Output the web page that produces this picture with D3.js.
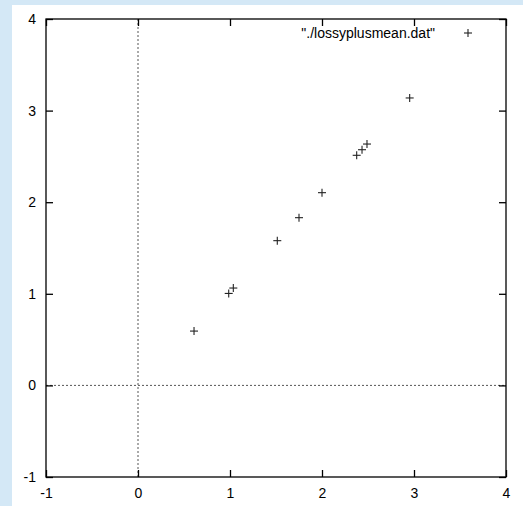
<!DOCTYPE html>
<html>
<head>
<meta charset="utf-8">
<script src="https://cdn.jsdelivr.net/npm/d3@7"></script>
<style>
  html, body { margin: 0; padding: 0; background: #d4e8f6; }
  svg { display: block; }
</style>
</head>
<body>
<svg id="chart" width="523" height="506"></svg>
<script>
// Scatter of lossy-plus-mean values
const xValues = [0.609, 0.986, 1.036, 1.514, 1.750, 2.000, 2.377, 2.435, 2.489, 2.953];
const yValues = [0.593, 1.004, 1.063, 1.580, 1.831, 2.104, 2.512, 2.573, 2.635, 3.138];
const xTicks = [-1, 0, 1, 2, 3, 4];
const yTicks = [-1, 0, 1, 2, 3, 4];
const seriesName = '"./lossyplusmean.dat"';

(function () {
  const svg = d3.select("#chart");
  const W = 523, H = 506;
  const plotLeft = 46, plotRight = 506, plotTop = 19, plotBottom = 477;
  const font = "Liberation Sans, Arial, sans-serif";
  const fontSize = "14px";
  const label = d => String(d);

  // white page area
  svg.append("rect").attr("x", 12).attr("y", 5).attr("width", W - 12).attr("height", H - 5).attr("fill", "#ffffff");

  const x = d3.scaleLinear().domain([-1, 4]).range([plotLeft, plotRight]);
  const y = d3.scaleLinear().domain([-1, 4]).range([plotBottom, plotTop]);

  // zero axes (dotted)
  svg.append("line").attr("x1", x(0)).attr("x2", x(0)).attr("y1", plotTop).attr("y2", plotBottom)
    .attr("stroke", "#555").attr("stroke-width", 1).attr("stroke-dasharray", "2,2");
  svg.append("line").attr("x1", plotLeft).attr("x2", plotRight).attr("y1", y(0)).attr("y2", y(0))
    .attr("stroke", "#555").attr("stroke-width", 1).attr("stroke-dasharray", "2,2");

  // axes with inward ticks on all four sides
  const tickLen = 7;
  const axB = d3.axisBottom(x).tickValues(xTicks).tickSize(-tickLen).tickPadding(11).tickFormat(label);
  const axT = d3.axisTop(x).tickValues(xTicks).tickSize(-tickLen).tickFormat("");
  const axL = d3.axisLeft(y).tickValues(yTicks).tickSize(-tickLen).tickPadding(10).tickFormat(label);
  const axR = d3.axisRight(y).tickValues(yTicks).tickSize(-tickLen).tickFormat("");

  function style(g) {
    g.select(".domain").remove();
    g.selectAll(".tick line").attr("stroke", "#000").attr("stroke-width", 1.3);
    g.selectAll(".tick text").attr("fill", "#000").style("font-family", font).style("font-size", fontSize);
  }
  svg.append("g").attr("transform", `translate(0,${plotBottom})`).call(axB).call(style);
  svg.append("g").attr("transform", `translate(0,${plotTop})`).call(axT).call(style);
  svg.append("g").attr("transform", `translate(${plotLeft},0)`).call(axL).call(style);
  svg.append("g").attr("transform", `translate(${plotRight},0)`).call(axR).call(style);

  // frame
  svg.append("rect").attr("x", plotLeft).attr("y", plotTop).attr("width", plotRight - plotLeft).attr("height", plotBottom - plotTop)
    .attr("fill", "none").attr("stroke", "#000").attr("stroke-width", 1.3);

  // plus markers
  const data = xValues.map((v, i) => ({ x: v, y: yValues[i] }));
  const arm = 4;
  const plus = svg.append("g").selectAll("g").data(data).join("g")
    .attr("transform", d => `translate(${x(d.x)},${y(d.y)})`);
  plus.append("line").attr("x1", -arm).attr("x2", arm).attr("y1", 0).attr("y2", 0).attr("stroke", "#222").attr("stroke-width", 1.1);
  plus.append("line").attr("x1", 0).attr("x2", 0).attr("y1", -arm).attr("y2", arm).attr("stroke", "#222").attr("stroke-width", 1.1);

  // legend
  svg.append("text").attr("x", 435).attr("y", 38).attr("text-anchor", "end")
    .style("font-family", font).style("font-size", fontSize).attr("fill", "#000").text(seriesName);
  const lg = svg.append("g").attr("transform", "translate(468,33)");
  lg.append("line").attr("x1", -arm).attr("x2", arm).attr("stroke", "#222").attr("stroke-width", 1.1);
  lg.append("line").attr("y1", -arm).attr("y2", arm).attr("stroke", "#222").attr("stroke-width", 1.1);
})();
</script>
</body>
</html>
